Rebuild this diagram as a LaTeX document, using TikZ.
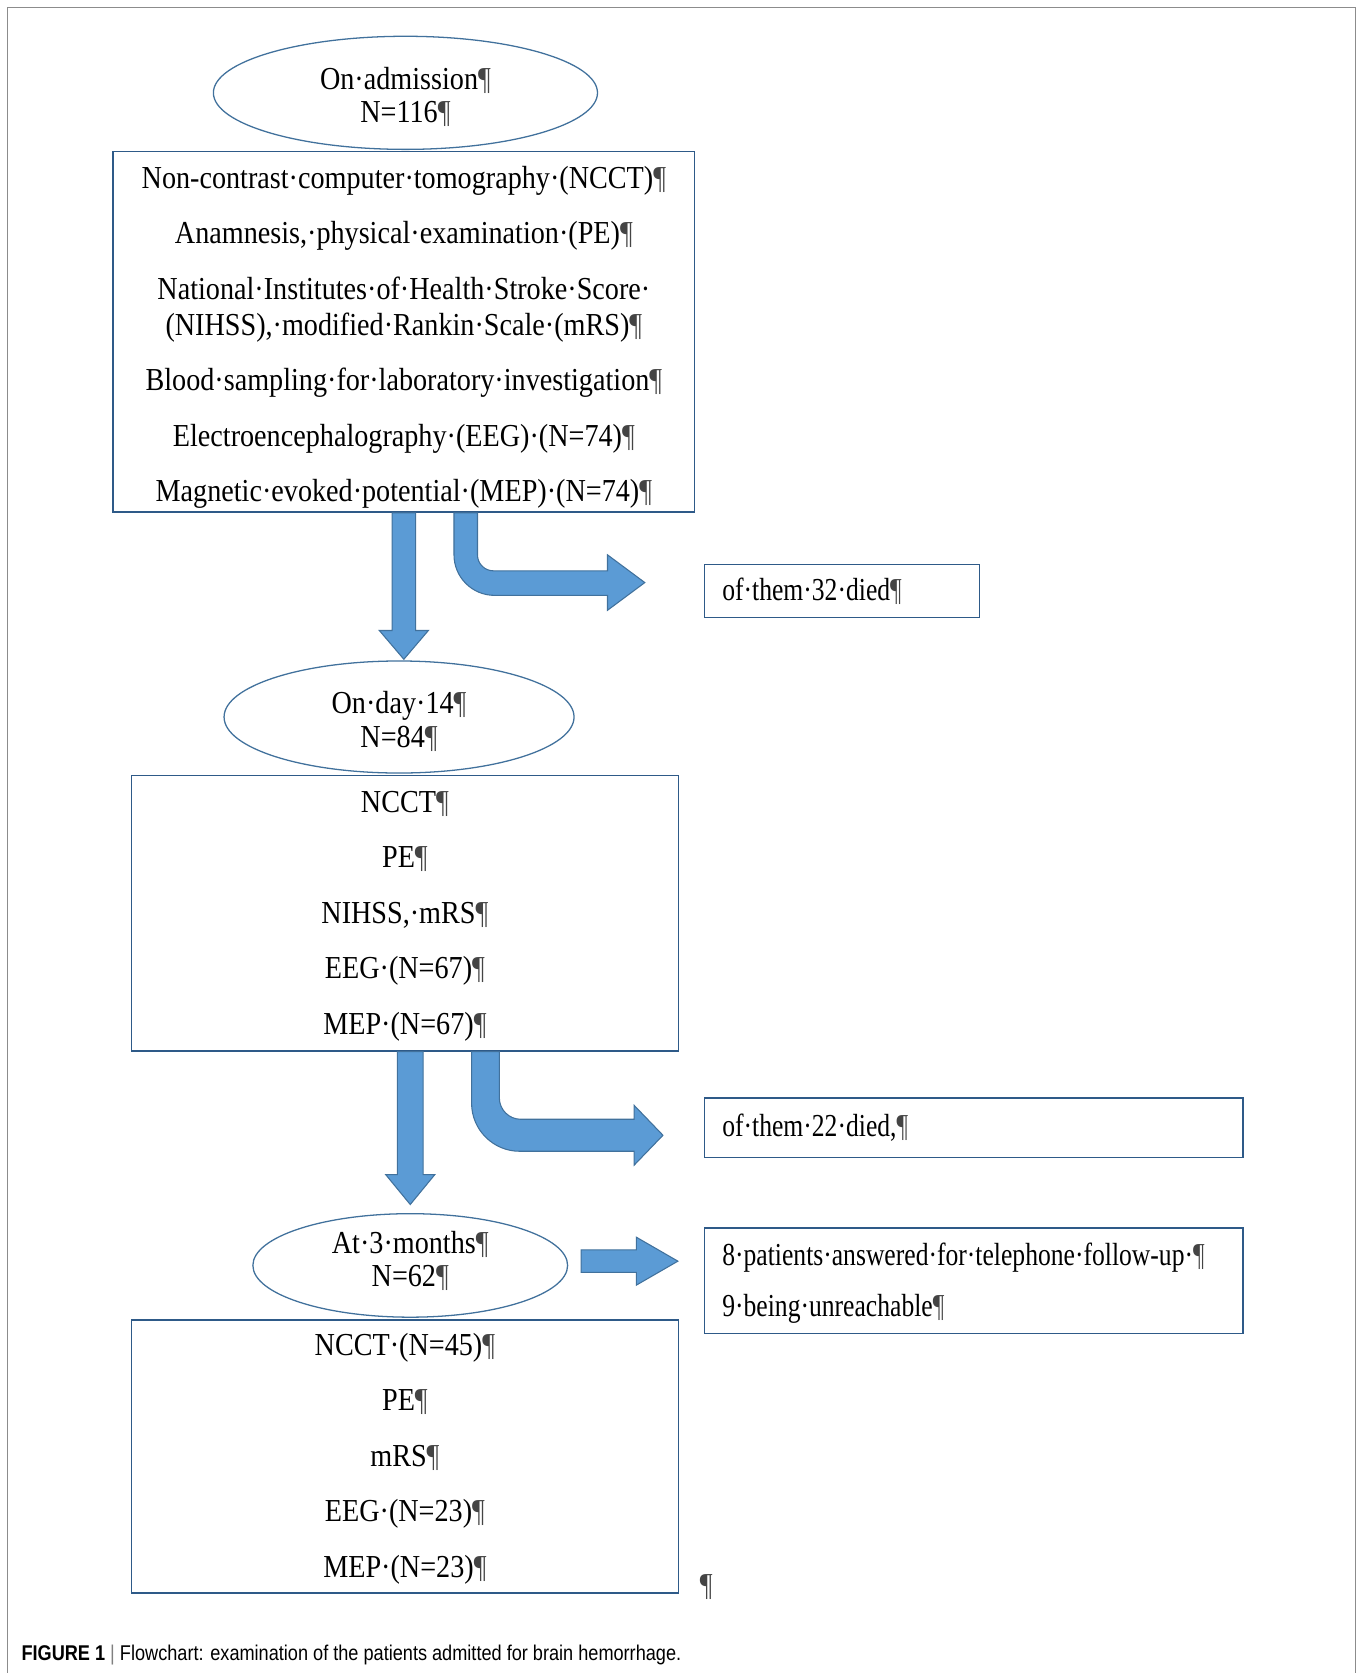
\documentclass[tikz,border=0pt]{standalone}
\usepackage{fontspec}
\setmainfont[FakeStretch=0.88]{Liberation Serif}
\newfontfamily\sidefont[FakeStretch=0.8]{Liberation Serif}
\newfontfamily\capfont[FakeStretch=0.85]{Liberation Sans}
\usetikzlibrary{shapes.geometric,calc}
\definecolor{arrfill}{HTML}{5B9BD5}
\definecolor{arredge}{HTML}{41719C}
\definecolor{boxline}{HTML}{2E5A88}
\definecolor{pilgray}{HTML}{444444}
\definecolor{framegray}{HTML}{8C8C8C}
\newcommand\pil{{\color{pilgray}¶}}
\newcommand\hstrut[1]{\rule{0pt}{#1}}
\newcommand\dstrut[1]{\rule[-#1]{0pt}{1pt}}
\begin{document}
\begin{tikzpicture}[x=1pt,y=-1pt,
  every node/.style={font=\fontsize{30}{34}\selectfont},
  box/.style={draw=boxline, line width=1.3pt, fill=white, inner sep=0pt, align=center},
  rbox/.style={draw=boxline, line width=1.3pt, inner xsep=17pt, inner ysep=0pt, align=left,
     font=\sidefont\fontsize{30}{34}\selectfont},
  ell/.style={ellipse, draw=arredge, line width=1.2pt, fill=white, inner sep=0pt, align=center},
  blockarrow/.style={fill=arrfill, draw=arredge, line width=1pt, line join=miter}]
\useasboundingbox (0,0) rectangle (1277,1568);
\draw[framegray, line width=1pt] (7,1568) -- (7,7) -- (1270,7) -- (1270,1568);

% main column
\node[box, minimum width=545, minimum height=338] (box1) at (378.5,311) {%
\hstrut{31pt}Non-contrast·computer·tomography·(NCCT)\pil\\[18pt]
Anamnesis,·physical·examination·(PE)\pil\\[18pt]
National·Institutes·of·Health·Stroke·Score·\\
(NIHSS),·modified·Rankin·Scale·(mRS)\pil\\[18pt]
Blood·sampling·for·laboratory·investigation\pil\\[18pt]
Electroencephalography·(EEG)·(N=74)\pil\\[18pt]
Magnetic·evoked·potential·(MEP)·(N=74)\pil};
\node[ell, minimum width=360, minimum height=106] (ell1) at (380,87) {\hstrut{29pt}On·admission\pil\\[-3pt]N=116\pil};

\node[box, minimum width=513, minimum height=258] (box2) at (379.5,856) {%
\hstrut{25pt}NCCT\pil\\[18pt]
PE\pil\\[18pt]
NIHSS,·mRS\pil\\[18pt]
EEG·(N=67)\pil\\[18pt]
MEP·(N=67)\pil};
\node[ell, minimum width=328, minimum height=105] (ell2) at (374,672) {\hstrut{29pt}On·day·14\pil\\[-3pt]N=84\pil};

\node[box, minimum width=513, minimum height=256] (box3) at (379.5,1365) {%
\hstrut{25pt}NCCT·(N=45)\pil\\[18pt]
PE\pil\\[18pt]
mRS\pil\\[18pt]
EEG·(N=23)\pil\\[18pt]
MEP·(N=23)\pil};
\node[ell, minimum width=295, minimum height=97] (ell3) at (384.5,1186) {At·3·months\pil\\[-3pt]N=62\pil\dstrut{12pt}};
\node[anchor=center] (pil) at (662,1487) {\pil};

% side boxes
\node[rbox, text width=224, minimum height=50] (r1) at (789,554) {of·them·32·died\pil};
\node[rbox, text width=471, minimum height=56] (r2) at (912.5,1057) {of·them·22·died,\pil};
\node[rbox, text width=471, minimum height=99] (r3) at (912.5,1200.5) {%
\hstrut{25pt}8·patients·answered·for·telephone·follow-up·\pil\\[14pt]
9·being·unreachable\pil};

% straight down arrows
\path[blockarrow] let \p1=(box1.south), \p2=(ell2.north) in
  (\x1-11pt,\y1) -- (\x1-11pt,\y2+28pt) -- (\x1-23pt,\y2+28pt) -- (\x1,\y2+1pt)
  -- (\x1+23pt,\y2+28pt) -- (\x1+11pt,\y2+28pt) -- (\x1+11pt,\y1) -- cycle;
\path[blockarrow] let \p1=(ell3.north |- box2.south), \p2=(ell3.north) in
  (\x1-12pt,\y1) -- (\x1-12pt,\y2+36pt) -- (\x1-23pt,\y2+36pt) -- (\x1,\y2+8pt)
  -- (\x1+23pt,\y2+36pt) -- (\x1+12pt,\y2+36pt) -- (\x1+12pt,\y1) -- cycle;

% bent arrow 1
\coordinate (s1) at ($(box1.south)+(58,0)$);
\coordinate (t1) at ($(r1.west)+(-55,-8)$);
\coordinate (c1) at (s1 |- t1);
\path[blockarrow] ($(s1)+(-11,0)$) -- ($(c1)+(-11,-26)$)
  .. controls ($(c1)+(-11,-5)$) and ($(c1)+(6,12)$) .. ($(c1)+(27,12)$)
  -- ($(t1)+(-35,12)$) -- ($(t1)+(-35,26)$) -- (t1) -- ($(t1)+(-35,-26)$) -- ($(t1)+(-35,-11)$)
  -- ($(c1)+(26,-11)$) .. controls ($(c1)+(17.7,-11)$) and ($(c1)+(11,-17.7)$) .. ($(c1)+(11,-26)$)
  -- ($(s1)+(11,0)$) -- cycle;

% bent arrow 2
\coordinate (s2) at ($(box2.south)+(75.5,0)$);
\coordinate (t2) at ($(r2.west)+(-38,7)$);
\coordinate (c2) at (s2 |- t2);
\path[blockarrow] ($(s2)+(-13,0)$) -- ($(c2)+(-13,-30)$)
  .. controls ($(c2)+(-13,-5.2)$) and ($(c2)+(7.2,15)$) .. ($(c2)+(32,15)$)
  -- ($(t2)+(-27,15)$) -- ($(t2)+(-27,28)$) -- (t2) -- ($(t2)+(-27,-28)$) -- ($(t2)+(-27,-15)$)
  -- ($(c2)+(33,-15)$) .. controls ($(c2)+(22,-15)$) and ($(c2)+(13,-24)$) .. ($(c2)+(13,-35)$)
  -- ($(s2)+(13,0)$) -- cycle;

% right arrow at 3 months
\coordinate (s3) at ($(ell3.east)+(12,-4)$);
\coordinate (t3) at ($(r3.west |- s3)+(-24,0)$);
\path[blockarrow] let \p1=(s3), \p2=(t3) in
  (\x1,\y1+10.5pt) -- (\x2-39pt,\y1+10.5pt) -- (\x2-39pt,\y1+22.5pt) -- (\x2,\y2)
  -- (\x2-39pt,\y1-22.5pt) -- (\x2-39pt,\y1-10.5pt) -- (\x1,\y1-10.5pt) -- cycle;

% caption
\node[anchor=base west, inner sep=0pt, font=\capfont\fontsize{20}{22}\selectfont] (cap) at (20,1556)
  {\textbf{FIGURE 1} {\color{gray}|} Flowchart: examination of the patients admitted for brain hemorrhage.};
\end{tikzpicture}
\end{document}
